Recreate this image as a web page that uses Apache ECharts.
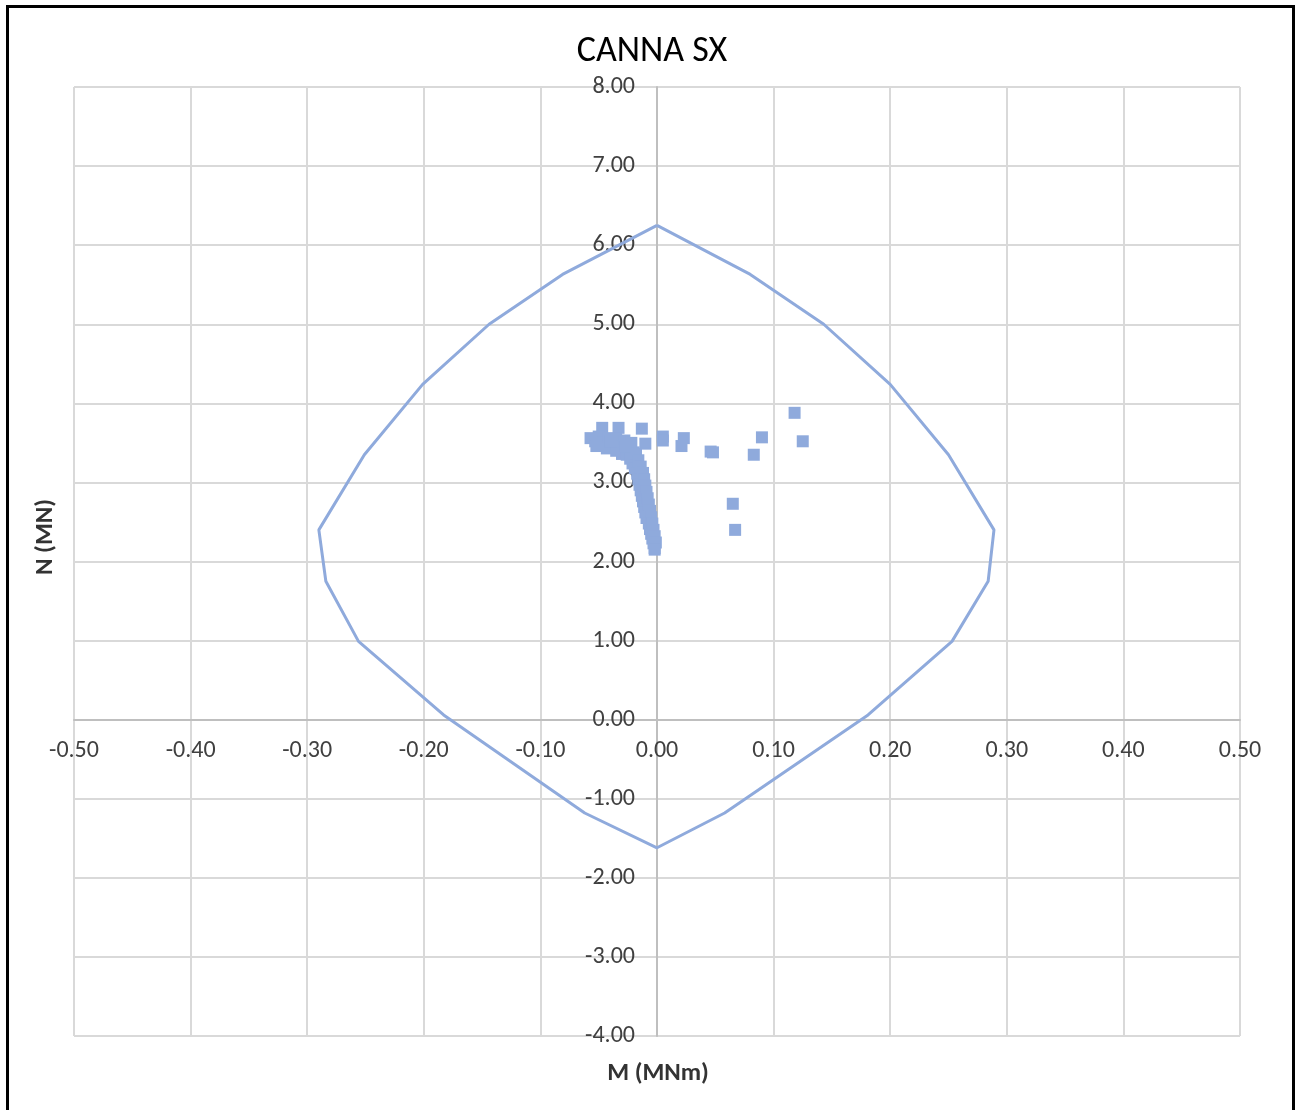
<!DOCTYPE html>
<html><head><meta charset="utf-8">
<script src="https://cdn.jsdelivr.net/npm/echarts@6/dist/echarts.min.js"></script>
<style>html,body{margin:0;padding:0;background:#fff}#c{width:1295px;height:1110px}</style>
</head><body><div id="c"></div>
<script>
const titleText = 'CANNA SX';
const xName = 'M (MNm)';
const yName = 'N (MN)';
const envelope = [
  [0, 6.25], [0.080, 5.63], [0.143, 5.00], [0.200, 4.24], [0.250, 3.35], [0.289, 2.40],
  [0.284, 1.75], [0.253, 0.99], [0.181, 0.06], [0.058, -1.18], [0, -1.62],
  [-0.062, -1.18], [-0.183, 0.06], [-0.256, 0.99], [-0.284, 1.75], [-0.290, 2.40],
  [-0.251, 3.35], [-0.201, 4.24], [-0.144, 5.00], [-0.081, 5.63], [0, 6.25]
];
const loads = [
  [-0.047, 3.69], [-0.033, 3.69], [-0.013, 3.68], [-0.010, 3.49],
  [-0.057, 3.56], [-0.053, 3.52], [-0.050, 3.58], [-0.046, 3.50], [-0.042, 3.56],
  [-0.038, 3.47], [-0.035, 3.55], [-0.031, 3.45], [-0.028, 3.53], [-0.025, 3.42],
  [-0.022, 3.50], [-0.020, 3.38], [-0.043, 3.43], [-0.035, 3.40], [-0.030, 3.36],
  [-0.026, 3.35], [-0.023, 3.30], [-0.021, 3.24], [-0.019, 3.18], [-0.017, 3.11],
  [-0.016, 3.04], [-0.015, 2.97], [-0.014, 2.90], [-0.013, 2.83], [-0.012, 2.76],
  [-0.011, 2.69], [-0.010, 2.62], [-0.009, 2.55], [-0.007, 2.48], [-0.006, 2.41],
  [-0.005, 2.35], [-0.004, 2.29], [-0.003, 2.23], [-0.002, 2.17],
  [-0.018, 3.36], [-0.016, 3.28], [-0.014, 3.20], [-0.012, 3.12], [-0.011, 3.04],
  [-0.010, 2.96], [-0.009, 2.88], [-0.008, 2.80], [-0.007, 2.72], [-0.006, 2.64],
  [-0.005, 2.56], [-0.004, 2.48], [-0.003, 2.40], [-0.002, 2.32], [-0.001, 2.24],
  [-0.002, 2.15], [-0.040, 3.52], [-0.027, 3.46], [-0.052, 3.46],
  [0.005, 3.58], [0.005, 3.53], [0.023, 3.56], [0.021, 3.46],
  [0.046, 3.39], [0.048, 3.38], [0.090, 3.57], [0.083, 3.35],
  [0.118, 3.88], [0.125, 3.52], [0.065, 2.73], [0.067, 2.40]
];
const blue = '#8FAADC';
const font = 'Carlito, "Liberation Sans", sans-serif';
const gridL = 74, gridT = 87, gridR = 55, gridB = 74;
const plotW = 1295 - gridL - gridR, plotH = 1110 - gridT - gridB;
const xMin = -0.5, xMax = 0.5, yMin = -4, yMax = 8;
const yAxisOffset = -plotW * (0 - xMin) / (xMax - xMin);
const xAxisOffset = -plotH * (0 - yMin) / (yMax - yMin);
const chart = echarts.init(document.getElementById('c'));
chart.setOption({
  animation: false,
  backgroundColor: '#fff',
  grid: { left: gridL, top: gridT, right: gridR, bottom: gridB },
  xAxis: { type: 'value', min: xMin, max: xMax, interval: 0.1, offset: xAxisOffset,
    axisLine: { onZero: false, lineStyle: { color: '#bfbfbf', width: 2 } },
    axisTick: { show: false },
    axisLabel: { margin: 19, color: '#404040', fontFamily: font, fontSize: 24, formatter: v => v.toFixed(2) },
    splitLine: { lineStyle: { color: '#d9d9d9', width: 2 } } },
  yAxis: { type: 'value', min: yMin, max: yMax, interval: 1, offset: yAxisOffset,
    axisLine: { onZero: false, lineStyle: { color: '#bfbfbf', width: 2 } },
    axisTick: { show: false },
    axisLabel: { margin: 22, color: '#404040', fontFamily: font, fontSize: 24, formatter: v => v.toFixed(2) },
    splitLine: { lineStyle: { color: '#d9d9d9', width: 2 } } },
  graphic: [
    { type: 'rect', shape: { x: 7.5, y: 6.5, width: 1286, height: 1200 },
      style: { fill: 'none', stroke: '#000', lineWidth: 3 }, silent: true },
    { type: 'text', x: 652, y: 52, style: { text: titleText, font: '36px ' + font, fill: '#000', textAlign: 'center', textVerticalAlign: 'middle' } },
    { type: 'text', x: 658, y: 1074, style: { text: xName, font: 'bold 25px ' + font, fill: '#333', textAlign: 'center', textVerticalAlign: 'middle' } },
    { type: 'text', x: 46, y: 537, rotation: Math.PI / 2, style: { text: yName, font: 'bold 25px ' + font, fill: '#333', textAlign: 'center', textVerticalAlign: 'middle' } }
  ],
  series: [
    { type: 'line', data: envelope, showSymbol: false, symbol: 'none',
      lineStyle: { color: blue, width: 3 }, z: 3 },
    { type: 'scatter', data: loads, symbol: 'rect', symbolSize: 12,
      itemStyle: { color: blue, opacity: 1 }, z: 4 }
  ]
});
</script></body></html>
